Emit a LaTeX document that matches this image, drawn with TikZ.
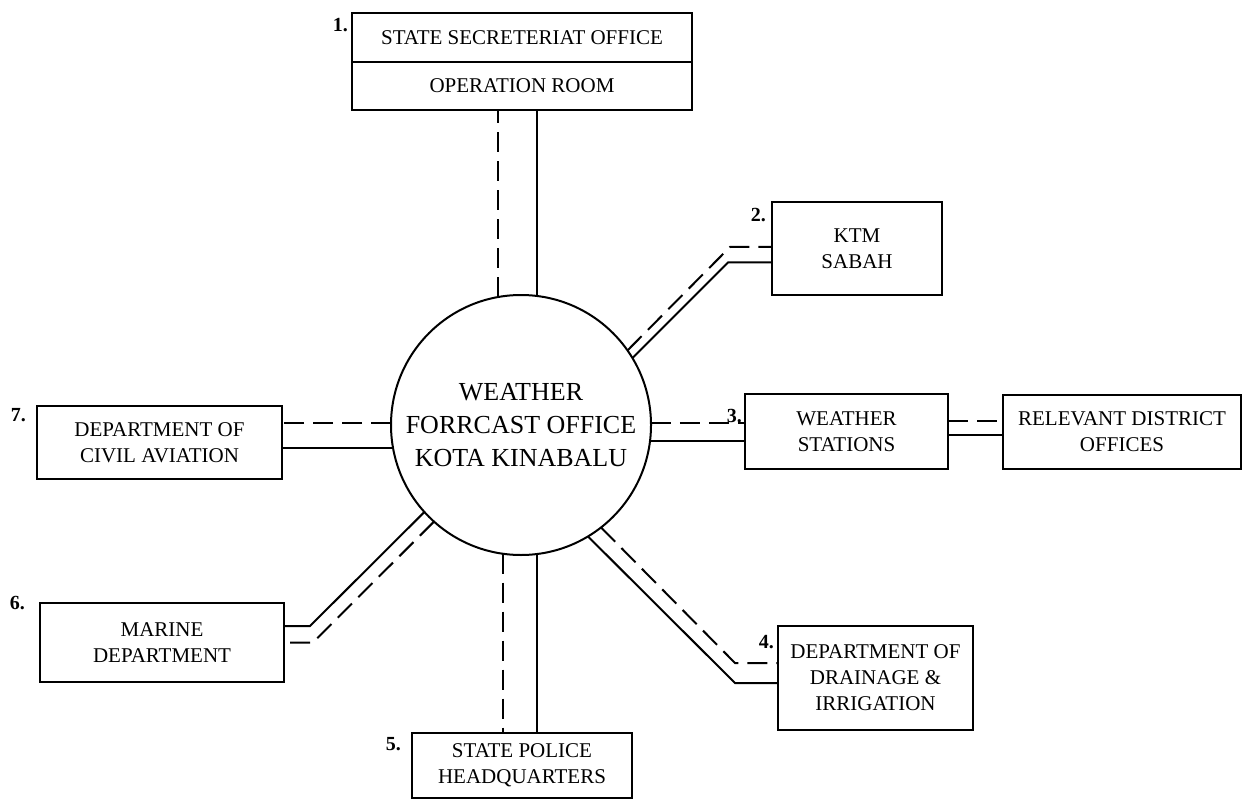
\documentclass[tikz,border=0pt]{standalone}
\usepackage{fontspec}
\setmainfont{Liberation Serif}
\usetikzlibrary{positioning}

\begin{document}
\begin{tikzpicture}[x=1pt,y=-1pt,
		box/.style={draw,line width=2pt,outer sep=0pt,inner sep=2pt,align=center,font=\fontsize{21}{26}\selectfont},
		num/.style={font=\bfseries\fontsize{20}{24}\selectfont,inner sep=1pt},
		dashln/.style={line width=2pt,dash pattern=on 20pt off 9pt},
		solidln/.style={line width=2pt}]
		\useasboundingbox (0,0) rectangle (1244,802);

		\node[shape=circle,draw,line width=2pt,outer sep=0pt,inner sep=0pt,minimum size=260pt,align=center,font=\fontsize{26}{33}\selectfont] (wfo) at (521,425) {WEATHER\\FORRCAST OFFICE\\KOTA KINABALU};

		\node[box,minimum width=340pt,minimum height=49pt,label={[num,anchor=north east,xshift=-3pt,yshift=-4pt]north west:1.}] (sso) at (522,37.5) {STATE SECRETERIAT OFFICE};
		\node[box,minimum width=340pt,minimum height=48pt] (opr) [below=0pt of sso] {OPERATION ROOM};
		\node[box,minimum width=170pt,minimum height=93pt,label={[num,anchor=north east,xshift=-5pt,yshift=-5pt]north west:2.}] (ktm) at (857,248.5) {KTM\\SABAH};
		\node[box,minimum width=203pt,minimum height=75pt,label={[num,anchor=south east,xshift=-2pt,yshift=8pt]west:3.}] (ws) at (846.5,431.5) {WEATHER\\STATIONS};
		\node[box,minimum width=238pt,minimum height=74pt] (rdo) [right=55pt of ws] {RELEVANT DISTRICT\\OFFICES};
		\node[box,minimum width=195pt,minimum height=104pt,label={[num,anchor=north east,xshift=-3pt,yshift=-8pt]north west:4.}] (did) at (875.5,678) {DEPARTMENT OF\\DRAINAGE \&\\IRRIGATION};
		\node[box,minimum width=220pt,minimum height=65pt,label={[num,anchor=north east,xshift=-10pt,yshift=-3pt]north west:5.}] (sph) at (522,765.5) {STATE POLICE\\HEADQUARTERS};
		\node[box,minimum width=244pt,minimum height=79pt,label={[num,anchor=north east,xshift=-14pt,yshift=8pt]north west:6.}] (mar) at (162,642.5) {MARINE\\DEPARTMENT};
		\node[box,minimum width=245pt,minimum height=73pt,label={[num,anchor=north east,xshift=-10pt,yshift=-1pt]north west:7.}] (dca) at (159.5,442.5) {DEPARTMENT OF\\CIVIL AVIATION};

		\draw[dashln] (wfo.100) -- (wfo.100 |- opr.south);
		\draw[solidln] (wfo.83) -- (wfo.83 |- opr.south);

		\draw[dashln] (wfo.35) -- ([xshift=-42pt,yshift=1.5pt]ktm.west) -- ([yshift=1.5pt]ktm.west);
		\draw[solidln] (wfo.31) -- ([xshift=-44pt,yshift=-14pt]ktm.west) -- ([yshift=-14pt]ktm.west);

		\draw[dashln] (wfo.1) -- (wfo.1 -| ws.west);
		\draw[solidln] (wfo.-7) -- (wfo.-7 -| ws.west);
		\draw[dashln] ([yshift=11pt]ws.east) -- ([yshift=11pt]ws.east -| rdo.west);
		\draw[solidln] ([yshift=-3.5pt]ws.east) -- ([yshift=-3.5pt]ws.east -| rdo.west);

		\draw[dashln] (wfo.-52.5) -- ([xshift=-43pt,yshift=15pt]did.west) -- ([yshift=15pt]did.west);
		\draw[solidln] (wfo.-59) -- ([xshift=-43pt,yshift=-5pt]did.west) -- ([yshift=-5pt]did.west);

		\draw[dashln] (wfo.262) -- (wfo.262 |- sph.north);
		\draw[solidln] (wfo.277) -- (wfo.277 |- sph.north);

		\draw[dashln] (wfo.228) -- ([xshift=29pt]mar.east) -- (mar.east);
		\draw[solidln] (wfo.222) -- ([xshift=26pt,yshift=16.5pt]mar.east) -- ([yshift=16.5pt]mar.east);

		\draw[dashln] (wfo.179) -- (wfo.179 -| dca.east);
		\draw[solidln] (wfo.190) -- (wfo.190 -| dca.east);
\end{tikzpicture}
\end{document}
